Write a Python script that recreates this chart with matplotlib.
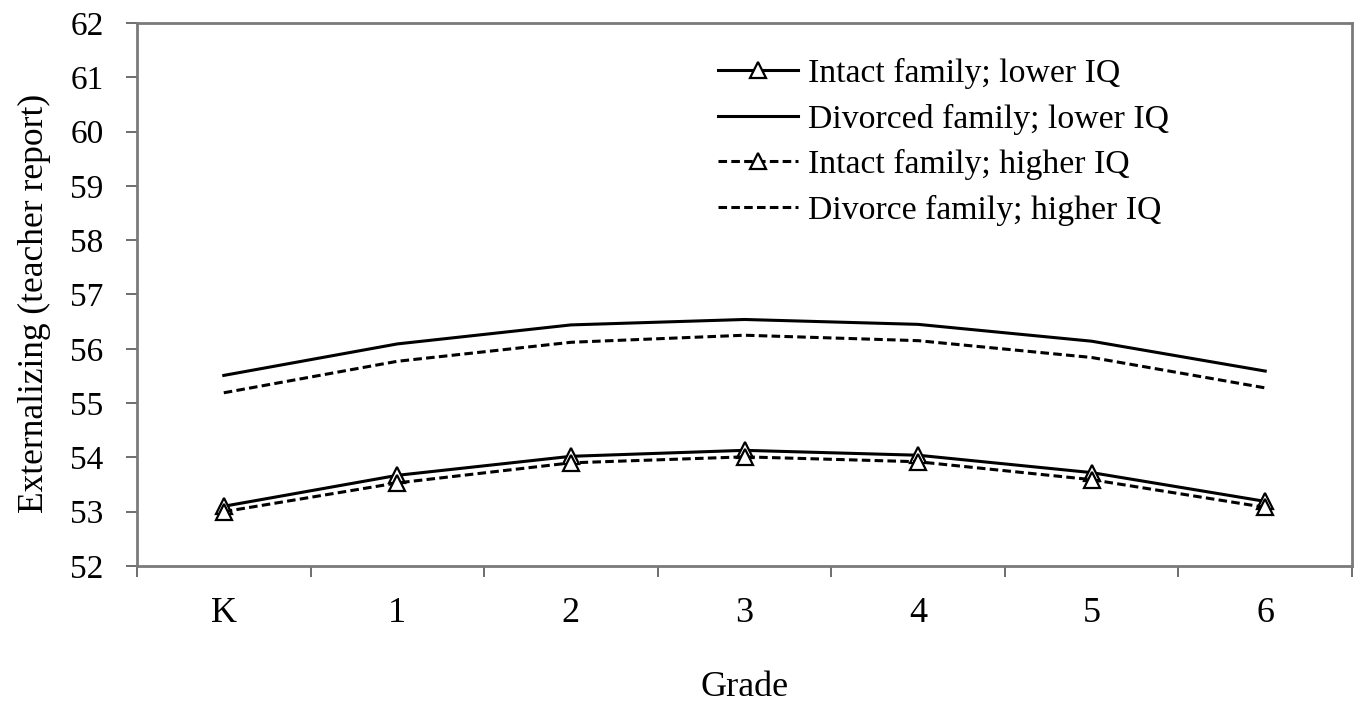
import matplotlib.pyplot as plt
import numpy as np

grades = ['K', '1', '2', '3', '4', '5', '6']

intact_lower = [53.10, 53.67, 54.02, 54.13, 54.04, 53.72, 53.19]
divorced_lower = [55.51, 56.09, 56.44, 56.54, 56.45, 56.14, 55.59]
intact_higher = [53.00, 53.53, 53.90, 54.01, 53.92, 53.59, 53.08]
divorce_higher = [55.19, 55.77, 56.12, 56.25, 56.15, 55.84, 55.28]

plt.rcParams['font.family'] = ['Liberation Serif', 'DejaVu Serif']

fig = plt.figure(figsize=(13.61, 7.04), dpi=100)
ax = fig.add_axes([137 / 1361, 138 / 704, (1352 - 137) / 1361, (566 - 23) / 704])

x = np.arange(len(grades))
dash = (0, (2.8, 1.4))
lw = 2.2

ax.plot(x, intact_lower, color='black', lw=lw, marker='^', ms=12,
        mfc='white', mec='black', mew=1.6, label='Intact family; lower IQ')
ax.plot(x, divorced_lower, color='black', lw=lw,
        label='Divorced family; lower IQ')
ax.plot(x, intact_higher, color='black', lw=lw, ls=dash, marker='^', ms=12,
        mfc='white', mec='black', mew=1.6, label='Intact family; higher IQ')
ax.plot(x, divorce_higher, color='black', lw=lw, ls=dash,
        label='Divorce family; higher IQ')

ax.set_xlim(-0.5, len(grades) - 0.5)
ax.set_ylim(52, 62)
ax.set_yticks(np.arange(52, 63, 1))
ax.set_xticks(x)
ax.set_xticklabels(grades)
ax.set_xticks(np.arange(-0.5, len(grades), 1), minor=True)

for sp in ax.spines.values():
    sp.set_color('#7a7a7a')
    sp.set_linewidth(2)

ax.tick_params(axis='y', direction='out', length=8, width=1.2, color='#555555',
               labelsize=24, pad=16)
ax.tick_params(axis='x', which='major', length=0, labelsize=26, pad=22)
ax.tick_params(axis='x', which='minor', direction='out', length=8, width=1.2,
               color='#555555')

ax.set_ylabel('Externalizing (teacher report)', fontsize=25.5)
ax.yaxis.set_label_coords(-86 / 1215, (566 - 303) / 543)
ax.set_xlabel('Grade', fontsize=26)
ax.xaxis.set_label_coords(0.5, -(671 - 566) / 543)

ax.legend(loc='upper left', bbox_to_anchor=(718 / 1361, 1 - 58 / 704),
          bbox_transform=fig.transFigure, frameon=False, fontsize=24.3,
          handlelength=2.37, handletextpad=0.3, labelspacing=0.43,
          borderpad=0, borderaxespad=0)

fig.savefig('out.png', dpi=100)
